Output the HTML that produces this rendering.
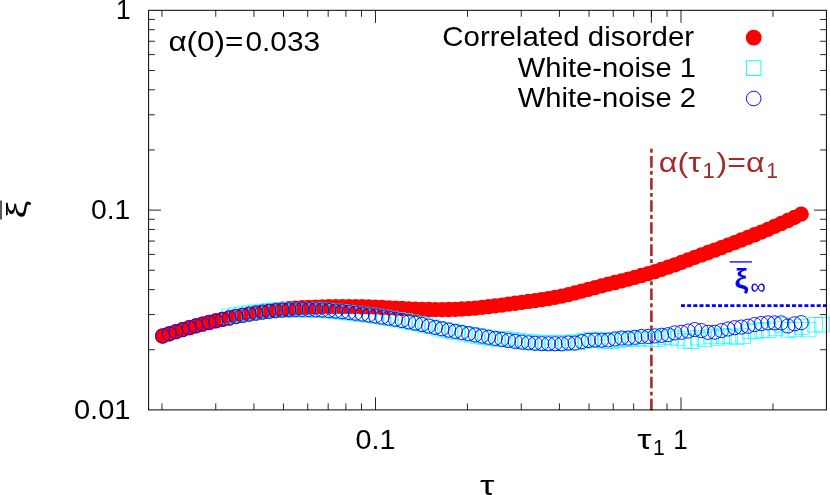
<!DOCTYPE html>
<html><head><meta charset="utf-8"><title>chart</title>
<style>
html,body{margin:0;padding:0;background:#fff;}
body{width:830px;height:495px;overflow:hidden;position:relative;font-family:"Liberation Sans",sans-serif;}
svg{will-change:transform;position:absolute;left:0;top:0;display:block}
</style></head><body>
<svg width="830" height="495" viewBox="0 0 830 495">
<rect width="830" height="495" fill="#fff"/>
<path d="M161.96 409.9v-6.5M161.96 10.3v6.5M215.76 409.9v-6.5M215.76 10.3v6.5M253.93 409.9v-6.5M253.93 10.3v6.5M283.54 409.9v-6.5M283.54 10.3v6.5M307.73 409.9v-6.5M307.73 10.3v6.5M328.18 409.9v-6.5M328.18 10.3v6.5M345.89 409.9v-6.5M345.89 10.3v6.5M361.52 409.9v-6.5M361.52 10.3v6.5M375.5 409.9v-12.6M375.5 10.3v12.6M467.46 409.9v-6.5M467.46 10.3v6.5M521.26 409.9v-6.5M521.26 10.3v6.5M559.43 409.9v-6.5M559.43 10.3v6.5M589.04 409.9v-6.5M589.04 10.3v6.5M613.23 409.9v-6.5M613.23 10.3v6.5M633.68 409.9v-6.5M633.68 10.3v6.5M651.39 409.9v-6.5M651.39 10.3v6.5M667.02 409.9v-6.5M667.02 10.3v6.5M681 409.9v-12.6M681 10.3v12.6M772.96 409.9v-6.5M772.96 10.3v6.5M148.6 349.75h6.3M826.4 349.75h-6.3M148.6 314.57h6.3M826.4 314.57h-6.3M148.6 289.61h6.3M826.4 289.61h-6.3M148.6 270.25h6.3M826.4 270.25h-6.3M148.6 254.43h6.3M826.4 254.43h-6.3M148.6 241.05h6.3M826.4 241.05h-6.3M148.6 229.46h6.3M826.4 229.46h-6.3M148.6 219.24h6.3M826.4 219.24h-6.3M148.6 210.1h12.4M826.4 210.1h-12.4M148.6 149.95h6.3M826.4 149.95h-6.3M148.6 114.77h6.3M826.4 114.77h-6.3M148.6 89.81h6.3M826.4 89.81h-6.3M148.6 70.45h6.3M826.4 70.45h-6.3M148.6 54.63h6.3M826.4 54.63h-6.3M148.6 41.25h6.3M826.4 41.25h-6.3M148.6 29.66h6.3M826.4 29.66h-6.3M148.6 19.44h6.3M826.4 19.44h-6.3M651.4 10.3v12.6" stroke="#000" stroke-width="0.85" fill="none"/>
<path d="M651.4 410.4V148.5" stroke="#a52a2a" stroke-width="2.6" stroke-dasharray="11.6 3.3 3.87 3.3" fill="none"/>
<path d="M681 305.6H826.4" stroke="#00f" stroke-width="2.7" stroke-dasharray="4 2.17" fill="none"/>
<g fill="#f00">
<circle cx="162.6" cy="336" r="7.65"/>
<circle cx="169.25" cy="333.78" r="7.65"/>
<circle cx="175.9" cy="331.66" r="7.65"/>
<circle cx="182.56" cy="329.64" r="7.65"/>
<circle cx="189.21" cy="327.72" r="7.65"/>
<circle cx="195.86" cy="325.89" r="7.65"/>
<circle cx="202.51" cy="324.15" r="7.65"/>
<circle cx="209.16" cy="322.5" r="7.65"/>
<circle cx="215.82" cy="320.93" r="7.65"/>
<circle cx="222.47" cy="319.44" r="7.65"/>
<circle cx="229.12" cy="318.02" r="7.65"/>
<circle cx="235.77" cy="316.67" r="7.65"/>
<circle cx="242.42" cy="315.38" r="7.65"/>
<circle cx="249.08" cy="314.16" r="7.65"/>
<circle cx="255.73" cy="313.01" r="7.65"/>
<circle cx="262.38" cy="311.92" r="7.65"/>
<circle cx="269.03" cy="310.92" r="7.65"/>
<circle cx="275.68" cy="310.02" r="7.65"/>
<circle cx="282.34" cy="309.24" r="7.65"/>
<circle cx="288.99" cy="308.59" r="7.65"/>
<circle cx="295.64" cy="308.08" r="7.65"/>
<circle cx="302.29" cy="307.67" r="7.65"/>
<circle cx="308.94" cy="307.32" r="7.65"/>
<circle cx="315.6" cy="307.04" r="7.65"/>
<circle cx="322.25" cy="306.82" r="7.65"/>
<circle cx="328.9" cy="306.66" r="7.65"/>
<circle cx="335.55" cy="306.57" r="7.65"/>
<circle cx="342.2" cy="306.53" r="7.65"/>
<circle cx="348.86" cy="306.55" r="7.65"/>
<circle cx="355.51" cy="306.63" r="7.65"/>
<circle cx="362.16" cy="306.77" r="7.65"/>
<circle cx="368.81" cy="306.96" r="7.65"/>
<circle cx="375.46" cy="307.21" r="7.65"/>
<circle cx="382.12" cy="307.5" r="7.65"/>
<circle cx="388.77" cy="307.82" r="7.65"/>
<circle cx="395.42" cy="308.16" r="7.65"/>
<circle cx="402.07" cy="308.49" r="7.65"/>
<circle cx="408.72" cy="308.81" r="7.65"/>
<circle cx="415.38" cy="309.09" r="7.65"/>
<circle cx="422.03" cy="309.32" r="7.65"/>
<circle cx="428.68" cy="309.5" r="7.65"/>
<circle cx="435.33" cy="309.59" r="7.65"/>
<circle cx="441.98" cy="309.59" r="7.65"/>
<circle cx="448.64" cy="309.49" r="7.65"/>
<circle cx="455.29" cy="309.28" r="7.65"/>
<circle cx="461.94" cy="308.97" r="7.65"/>
<circle cx="468.59" cy="308.55" r="7.65"/>
<circle cx="475.24" cy="308.03" r="7.65"/>
<circle cx="481.9" cy="307.41" r="7.65"/>
<circle cx="488.55" cy="306.69" r="7.65"/>
<circle cx="495.2" cy="305.9" r="7.65"/>
<circle cx="501.85" cy="305.04" r="7.65"/>
<circle cx="508.5" cy="304.16" r="7.65"/>
<circle cx="515.16" cy="303.25" r="7.65"/>
<circle cx="521.81" cy="302.36" r="7.65"/>
<circle cx="528.46" cy="301.47" r="7.65"/>
<circle cx="535.11" cy="300.56" r="7.65"/>
<circle cx="541.76" cy="299.6" r="7.65"/>
<circle cx="548.42" cy="298.55" r="7.65"/>
<circle cx="555.07" cy="297.37" r="7.65"/>
<circle cx="561.72" cy="296.04" r="7.65"/>
<circle cx="568.37" cy="294.54" r="7.65"/>
<circle cx="575.02" cy="292.91" r="7.65"/>
<circle cx="581.68" cy="291.19" r="7.65"/>
<circle cx="588.33" cy="289.42" r="7.65"/>
<circle cx="594.98" cy="287.63" r="7.65"/>
<circle cx="601.63" cy="285.87" r="7.65"/>
<circle cx="608.28" cy="284.16" r="7.65"/>
<circle cx="614.94" cy="282.48" r="7.65"/>
<circle cx="621.59" cy="280.79" r="7.65"/>
<circle cx="628.24" cy="279.09" r="7.65"/>
<circle cx="634.89" cy="277.34" r="7.65"/>
<circle cx="641.54" cy="275.51" r="7.65"/>
<circle cx="648.2" cy="273.6" r="7.65"/>
<circle cx="654.85" cy="271.56" r="7.65"/>
<circle cx="661.5" cy="269.4" r="7.65"/>
<circle cx="668.15" cy="267.14" r="7.65"/>
<circle cx="674.8" cy="264.79" r="7.65"/>
<circle cx="681.46" cy="262.38" r="7.65"/>
<circle cx="688.11" cy="259.93" r="7.65"/>
<circle cx="694.76" cy="257.45" r="7.65"/>
<circle cx="701.41" cy="254.97" r="7.65"/>
<circle cx="708.06" cy="252.5" r="7.65"/>
<circle cx="714.72" cy="250.03" r="7.65"/>
<circle cx="721.37" cy="247.55" r="7.65"/>
<circle cx="728.02" cy="245.06" r="7.65"/>
<circle cx="734.67" cy="242.54" r="7.65"/>
<circle cx="741.32" cy="239.99" r="7.65"/>
<circle cx="747.98" cy="237.4" r="7.65"/>
<circle cx="754.63" cy="234.76" r="7.65"/>
<circle cx="761.28" cy="232.06" r="7.65"/>
<circle cx="767.93" cy="229.29" r="7.65"/>
<circle cx="774.58" cy="226.45" r="7.65"/>
<circle cx="781.24" cy="223.52" r="7.65"/>
<circle cx="787.89" cy="220.5" r="7.65"/>
<circle cx="794.54" cy="217.38" r="7.65"/>
<circle cx="801.19" cy="214.15" r="7.65"/>
</g>
<g fill="none" stroke="#0ff" stroke-width="0.7">
<rect x="221.85" y="309.11" width="14.54" height="14.54"/>
<rect x="228.5" y="307.94" width="14.54" height="14.54"/>
<rect x="235.15" y="306.86" width="14.54" height="14.54"/>
<rect x="241.81" y="305.87" width="14.54" height="14.54"/>
<rect x="248.46" y="304.99" width="14.54" height="14.54"/>
<rect x="255.11" y="304.22" width="14.54" height="14.54"/>
<rect x="261.76" y="303.57" width="14.54" height="14.54"/>
<rect x="268.41" y="303.05" width="14.54" height="14.54"/>
<rect x="275.07" y="302.67" width="14.54" height="14.54"/>
<rect x="281.72" y="302.45" width="14.54" height="14.54"/>
<rect x="288.37" y="302.55" width="14.54" height="14.54"/>
<rect x="295.02" y="302.48" width="14.54" height="14.54"/>
<rect x="301.67" y="302.56" width="14.54" height="14.54"/>
<rect x="308.33" y="302.77" width="14.54" height="14.54"/>
<rect x="314.98" y="303.1" width="14.54" height="14.54"/>
<rect x="321.63" y="303.55" width="14.54" height="14.54"/>
<rect x="328.28" y="304.09" width="14.54" height="14.54"/>
<rect x="334.93" y="304.73" width="14.54" height="14.54"/>
<rect x="341.59" y="305.45" width="14.54" height="14.54"/>
<rect x="348.24" y="306.26" width="14.54" height="14.54"/>
<rect x="355.32" y="307.13" width="14.54" height="14.54"/>
<rect x="362.4" y="308.06" width="14.54" height="14.54"/>
<rect x="369.48" y="309.04" width="14.54" height="14.54"/>
<rect x="376.56" y="310.09" width="14.54" height="14.54"/>
<rect x="383.64" y="311.19" width="14.54" height="14.54"/>
<rect x="390.72" y="312.35" width="14.54" height="14.54"/>
<rect x="397.8" y="313.58" width="14.54" height="14.54"/>
<rect x="404.45" y="314.87" width="14.54" height="14.54"/>
<rect x="411.11" y="316.24" width="14.54" height="14.54"/>
<rect x="417.76" y="317.64" width="14.54" height="14.54"/>
<rect x="424.41" y="319.07" width="14.54" height="14.54"/>
<rect x="431.06" y="321.37" width="14.54" height="14.54"/>
<rect x="437.71" y="322.73" width="14.54" height="14.54"/>
<rect x="444.37" y="324.02" width="14.54" height="14.54"/>
<rect x="451.02" y="325.26" width="14.54" height="14.54"/>
<rect x="457.67" y="326.46" width="14.54" height="14.54"/>
<rect x="464.32" y="327.63" width="14.54" height="14.54"/>
<rect x="470.97" y="328.8" width="14.54" height="14.54"/>
<rect x="477.63" y="329.96" width="14.54" height="14.54"/>
<rect x="484.28" y="331.13" width="14.54" height="14.54"/>
<rect x="490.93" y="332.28" width="14.54" height="14.54"/>
<rect x="497.58" y="331.39" width="14.54" height="14.54"/>
<rect x="504.23" y="332.41" width="14.54" height="14.54"/>
<rect x="510.89" y="333.34" width="14.54" height="14.54"/>
<rect x="517.54" y="334.13" width="14.54" height="14.54"/>
<rect x="524.19" y="334.78" width="14.54" height="14.54"/>
<rect x="530.84" y="335.27" width="14.54" height="14.54"/>
<rect x="537.49" y="335.59" width="14.54" height="14.54"/>
<rect x="544.15" y="335.73" width="14.54" height="14.54"/>
<rect x="550.8" y="335.7" width="14.54" height="14.54"/>
<rect x="557.45" y="335.8" width="14.54" height="14.54"/>
<rect x="564.1" y="334.95" width="14.54" height="14.54"/>
<rect x="570.75" y="335.07" width="14.54" height="14.54"/>
<rect x="577.41" y="333.57" width="14.54" height="14.54"/>
<rect x="584.06" y="332.48" width="14.54" height="14.54"/>
<rect x="590.71" y="332.06" width="14.54" height="14.54"/>
<rect x="597.36" y="334.17" width="14.54" height="14.54"/>
<rect x="604.01" y="333.85" width="14.54" height="14.54"/>
<rect x="610.67" y="332.88" width="14.54" height="14.54"/>
<rect x="617.32" y="331.96" width="14.54" height="14.54"/>
<rect x="623.97" y="332.05" width="14.54" height="14.54"/>
<rect x="630.62" y="331.24" width="14.54" height="14.54"/>
<rect x="637.27" y="331.33" width="14.54" height="14.54"/>
<rect x="643.93" y="332.23" width="14.54" height="14.54"/>
<rect x="650.58" y="331.73" width="14.54" height="14.54"/>
<rect x="657.23" y="329.73" width="14.54" height="14.54"/>
<rect x="663.88" y="329.53" width="14.54" height="14.54"/>
<rect x="670.53" y="331.23" width="14.54" height="14.54"/>
<rect x="677.19" y="333.53" width="14.54" height="14.54"/>
<rect x="683.84" y="334.13" width="14.54" height="14.54"/>
<rect x="690.49" y="330.43" width="14.54" height="14.54"/>
<rect x="697.14" y="332.23" width="14.54" height="14.54"/>
<rect x="703.79" y="329.23" width="14.54" height="14.54"/>
<rect x="710.2" y="330.73" width="14.54" height="14.54"/>
<rect x="716.6" y="328.63" width="14.54" height="14.54"/>
<rect x="723" y="329.23" width="14.54" height="14.54"/>
<rect x="729.4" y="330.23" width="14.54" height="14.54"/>
<rect x="735.8" y="328.73" width="14.54" height="14.54"/>
<rect x="742.21" y="324.23" width="14.54" height="14.54"/>
<rect x="748.61" y="323.73" width="14.54" height="14.54"/>
<rect x="755.01" y="322.73" width="14.54" height="14.54"/>
<rect x="761.41" y="323.23" width="14.54" height="14.54"/>
<rect x="768.01" y="321.23" width="14.54" height="14.54"/>
<rect x="774.67" y="317.73" width="14.54" height="14.54"/>
<rect x="781.32" y="322.73" width="14.54" height="14.54"/>
<rect x="787.97" y="322.23" width="14.54" height="14.54"/>
<rect x="794.62" y="319.73" width="14.54" height="14.54"/>
<rect x="801.43" y="322.33" width="14.54" height="14.54"/>
<rect x="807.83" y="317.53" width="14.54" height="14.54"/>
<rect x="814.73" y="317.43" width="14.54" height="14.54"/>
</g>
<g fill="none" stroke="#00f" stroke-width="0.9">
<circle cx="162.6" cy="336" r="7.1"/>
<circle cx="169.25" cy="333.83" r="7.1"/>
<circle cx="175.9" cy="331.74" r="7.1"/>
<circle cx="182.56" cy="329.72" r="7.1"/>
<circle cx="189.21" cy="327.78" r="7.1"/>
<circle cx="195.86" cy="325.92" r="7.1"/>
<circle cx="202.51" cy="324.14" r="7.1"/>
<circle cx="209.16" cy="322.44" r="7.1"/>
<circle cx="215.82" cy="320.83" r="7.1"/>
<circle cx="222.47" cy="319.31" r="7.1"/>
<circle cx="229.12" cy="317.88" r="7.1"/>
<circle cx="235.77" cy="316.54" r="7.1"/>
<circle cx="242.42" cy="315.3" r="7.1"/>
<circle cx="249.08" cy="314.15" r="7.1"/>
<circle cx="255.73" cy="313.11" r="7.1"/>
<circle cx="262.38" cy="312.17" r="7.1"/>
<circle cx="269.03" cy="311.36" r="7.1"/>
<circle cx="275.68" cy="310.67" r="7.1"/>
<circle cx="282.34" cy="310.13" r="7.1"/>
<circle cx="288.99" cy="309.74" r="7.1"/>
<circle cx="295.64" cy="309.52" r="7.1"/>
<circle cx="302.29" cy="309.45" r="7.1"/>
<circle cx="308.94" cy="309.53" r="7.1"/>
<circle cx="315.6" cy="309.74" r="7.1"/>
<circle cx="322.25" cy="310.07" r="7.1"/>
<circle cx="328.9" cy="310.52" r="7.1"/>
<circle cx="335.55" cy="311.06" r="7.1"/>
<circle cx="342.2" cy="311.7" r="7.1"/>
<circle cx="348.86" cy="312.42" r="7.1"/>
<circle cx="355.51" cy="313.23" r="7.1"/>
<circle cx="362.16" cy="314.1" r="7.1"/>
<circle cx="368.81" cy="315.03" r="7.1"/>
<circle cx="375.46" cy="316.01" r="7.1"/>
<circle cx="382.12" cy="317.06" r="7.1"/>
<circle cx="388.77" cy="318.16" r="7.1"/>
<circle cx="395.42" cy="319.32" r="7.1"/>
<circle cx="402.07" cy="320.55" r="7.1"/>
<circle cx="408.72" cy="321.84" r="7.1"/>
<circle cx="415.38" cy="323.21" r="7.1"/>
<circle cx="422.03" cy="324.61" r="7.1"/>
<circle cx="428.68" cy="326.04" r="7.1"/>
<circle cx="435.33" cy="327.44" r="7.1"/>
<circle cx="441.98" cy="328.8" r="7.1"/>
<circle cx="448.64" cy="330.09" r="7.1"/>
<circle cx="455.29" cy="331.33" r="7.1"/>
<circle cx="461.94" cy="332.53" r="7.1"/>
<circle cx="468.59" cy="333.7" r="7.1"/>
<circle cx="475.24" cy="334.87" r="7.1"/>
<circle cx="481.9" cy="336.03" r="7.1"/>
<circle cx="488.55" cy="337.2" r="7.1"/>
<circle cx="495.2" cy="338.35" r="7.1"/>
<circle cx="501.85" cy="339.46" r="7.1"/>
<circle cx="508.5" cy="340.48" r="7.1"/>
<circle cx="515.16" cy="341.41" r="7.1"/>
<circle cx="521.81" cy="342.2" r="7.1"/>
<circle cx="528.46" cy="342.85" r="7.1"/>
<circle cx="535.11" cy="343.34" r="7.1"/>
<circle cx="541.76" cy="343.66" r="7.1"/>
<circle cx="548.42" cy="343.8" r="7.1"/>
<circle cx="555.07" cy="343.77" r="7.1"/>
<circle cx="561.72" cy="343.87" r="7.1"/>
<circle cx="568.37" cy="343.02" r="7.1"/>
<circle cx="575.02" cy="343.14" r="7.1"/>
<circle cx="581.68" cy="341.64" r="7.1"/>
<circle cx="588.33" cy="340.55" r="7.1"/>
<circle cx="594.98" cy="340.13" r="7.1"/>
<circle cx="601.63" cy="340.24" r="7.1"/>
<circle cx="608.28" cy="339.92" r="7.1"/>
<circle cx="614.94" cy="338.95" r="7.1"/>
<circle cx="621.59" cy="338.03" r="7.1"/>
<circle cx="628.24" cy="338.12" r="7.1"/>
<circle cx="634.89" cy="337.31" r="7.1"/>
<circle cx="641.54" cy="336.48" r="7.1"/>
<circle cx="648.2" cy="336.4" r="7.1"/>
<circle cx="654.85" cy="335.9" r="7.1"/>
<circle cx="661.5" cy="335.3" r="7.1"/>
<circle cx="668.15" cy="334.7" r="7.1"/>
<circle cx="674.8" cy="332.9" r="7.1"/>
<circle cx="681.46" cy="332.3" r="7.1"/>
<circle cx="688.11" cy="331.1" r="7.1"/>
<circle cx="694.76" cy="329.6" r="7.1"/>
<circle cx="701.41" cy="330.6" r="7.1"/>
<circle cx="708.06" cy="332.3" r="7.1"/>
<circle cx="714.72" cy="332.2" r="7.1"/>
<circle cx="721.37" cy="330.6" r="7.1"/>
<circle cx="728.02" cy="329" r="7.1"/>
<circle cx="734.67" cy="327.7" r="7.1"/>
<circle cx="741.32" cy="327.1" r="7.1"/>
<circle cx="747.98" cy="326.2" r="7.1"/>
<circle cx="754.63" cy="324.6" r="7.1"/>
<circle cx="761.28" cy="323.6" r="7.1"/>
<circle cx="767.93" cy="322.9" r="7.1"/>
<circle cx="774.58" cy="322.9" r="7.1"/>
<circle cx="781.24" cy="322.9" r="7.1"/>
<circle cx="787.89" cy="326" r="7.1"/>
<circle cx="794.54" cy="323.8" r="7.1"/>
<circle cx="801.19" cy="322.7" r="7.1"/>
</g>
<rect x="148.6" y="10.3" width="677.8" height="399.59999999999997" fill="none" stroke="#000" stroke-width="1"/>
<circle cx="753.7" cy="37.6" r="7.9" fill="#f00"/>
<rect x="746.4" y="60.8" width="14.6" height="14.6" fill="none" stroke="#0ff" stroke-width="0.95"/>
<circle cx="753.7" cy="98.5" r="7.3" fill="none" stroke="#00f" stroke-width="0.95"/>
<path d="M729.7 261.9H751.9" stroke="#00f" stroke-width="1.3" fill="none"/>
<path d="M1 200.4V219.6" stroke="#000" stroke-width="1.3" fill="none"/>
<g font-family="Liberation Sans, sans-serif" fill="#000">
<text transform="translate(115.883 18.8) scale(0.958 1)" font-size="27.6">1</text>
<text transform="translate(90.975 218.7) scale(1.025 1)" font-size="27.6">0.1</text>
<text transform="translate(73.946 418.6) scale(1.054 1)" font-size="27.6">0.01</text>
<text transform="translate(355.458 449.1) scale(1.042 1)" font-size="27.6">0.1</text>
<text transform="translate(673.317 449.1) scale(0.942 1)" font-size="27.6">1</text>
<text transform="translate(637.346 449.251) scale(1.307 0.997)" font-size="27.6">τ</text>
<text transform="translate(653.024 455.4) scale(0.958 1)" font-size="22.08">1</text>
<text transform="translate(479.941 495.142) scale(1.317 1.031)" font-size="27.6">τ</text>
<text transform="translate(168.375 50.7) scale(1.14 1)" font-size="27.6">α(0)=</text>
<text transform="translate(245.52 50.7) scale(1.08 1)" font-size="27.6">0.033</text>
<text transform="translate(442.3 46.2) scale(1.066 1)" font-size="27.6">Correlated disorder</text>
<text transform="translate(517.736 76.5) scale(1.057 1)" font-size="27.6">White-noise 1</text>
<text transform="translate(517.736 106.7) scale(1.057 1)" font-size="27.6">White-noise 2</text>
<text transform="translate(658.836 172.3) scale(1.171 1)" font-size="27.6" fill="#a52a2a">α(τ</text>
<text transform="translate(702.55 178.4) scale(1 1)" font-size="22.08" fill="#a52a2a">1</text>
<text transform="translate(716.609 172.3) scale(1.163 1)" font-size="27.6" fill="#a52a2a">)=α</text>
<text transform="translate(766.324 178.4) scale(0.958 1)" font-size="22.08" fill="#a52a2a">1</text>
<text transform="translate(734.389 288.181) scale(1.111 0.994)" font-size="27.6" font-weight="bold" fill="#00f">ξ</text>
<text transform="translate(750.533 293.664) scale(0.967 1.006)" font-size="22.08" fill="#00f">∞</text>
<text transform="translate(26.387 218.41) rotate(-90) scale(1.448 1.034)" font-size="27.6">ξ</text>
</g>
</svg>

</body></html>
